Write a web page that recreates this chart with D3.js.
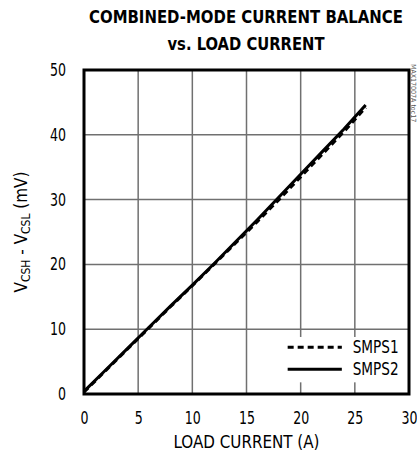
<!DOCTYPE html>
<html>
<head>
<meta charset="utf-8">
<script src="https://cdn.jsdelivr.net/npm/d3@7"></script>
<style>
  body { margin: 0; background: #fff; }
  text { font-family: "Liberation Sans Narrow", "DejaVu Sans Condensed", "Liberation Sans", sans-serif; }
</style>
</head>
<body>
<div id="chart"></div>
<script>
// Data
var current = [0, 2, 4, 6, 8, 10, 12, 14, 16, 18, 20, 22, 24, 26];
var smps1 = [0.3, 3.6, 6.9, 10.2, 13.5, 16.7, 20.0, 23.3, 26.6, 30.0, 33.5, 37.0, 40.5, 44.2];
var smps2 = [0.4, 3.7, 7.0, 10.3, 13.6, 16.8, 20.1, 23.5, 26.9, 30.4, 33.9, 37.4, 40.9, 44.6];
var xTicks = [0, 5, 10, 15, 20, 25, 30];
var yTicks = [0, 10, 20, 30, 40, 50];
var seriesNames = ["SMPS1", "SMPS2"];

var margin = { top: 70, right: 8, bottom: 61, left: 84 },
  width = 417 - margin.left - margin.right,
  height = 455 - margin.top - margin.bottom;

var svgRoot = d3.select("#chart")
  .append("svg")
  .attr("width", 417)
  .attr("height", 455);

// Title
var title = svgRoot.append("g").attr("font-weight", "bold").attr("text-anchor", "middle");
title.append("text").attr("x", 246).attr("y", 23).attr("font-size", 18.5)
  .attr("textLength", 314).attr("lengthAdjust", "spacingAndGlyphs")
  .text("COMBINED-MODE CURRENT BALANCE");
title.append("text").attr("x", 246).attr("y", 50).attr("font-size", 18.5)
  .attr("textLength", 157).attr("lengthAdjust", "spacingAndGlyphs")
  .text("vs. LOAD CURRENT");

var svg = svgRoot.append("g")
  .attr("transform", "translate(" + margin.left + "," + margin.top + ")");

var x = d3.scaleLinear().domain([0, 30]).range([0, width]);
var y = d3.scaleLinear().domain([0, 50]).range([height, 0]);

// Grid lines
svg.selectAll(".vgrid").data(xTicks.slice(1, -1)).enter()
  .append("line").attr("class", "vgrid")
  .attr("x1", function (d) { return x(d); }).attr("x2", function (d) { return x(d); })
  .attr("y1", 0).attr("y2", height)
  .attr("stroke", "#707070").attr("stroke-width", 1.5);
svg.selectAll(".hgrid").data(yTicks.slice(1, -1)).enter()
  .append("line").attr("class", "hgrid")
  .attr("x1", 0).attr("x2", width)
  .attr("y1", function (d) { return y(d); }).attr("y2", function (d) { return y(d); })
  .attr("stroke", "#707070").attr("stroke-width", 1.5);

// Axes (labels only), squeezed to the narrow face of the original
var xAxis = svg.append("g")
  .attr("transform", "translate(0," + height + ")")
  .call(d3.axisBottom(x).tickValues(xTicks).tickSize(0).tickPadding(18));
var yAxis = svg.append("g")
  .call(d3.axisLeft(y).tickValues(yTicks).tickSize(0).tickPadding(18));
[xAxis, yAxis].forEach(function (a) {
  a.select(".domain").remove();
  a.selectAll("text").attr("font-size", 17).attr("fill", "#000")
    .style("font-family", "\"Liberation Sans Narrow\", \"DejaVu Sans Condensed\", sans-serif")
    .attr("textLength", function (d) { return String(d).length * 8; })
    .attr("lengthAdjust", "spacingAndGlyphs");
});

// Lines
var line = function (vals) {
  return d3.line()
    .x(function (d, i) { return x(current[i]); })
    .y(function (d) { return y(d); })(vals);
};
svg.append("path").attr("d", line(smps1))
  .attr("fill", "none").attr("stroke", "#000").attr("stroke-width", 3)
  .attr("stroke-dasharray", "6,4");
svg.append("path").attr("d", line(smps2))
  .attr("fill", "none").attr("stroke", "#000").attr("stroke-width", 3);

// Legend
var legend = svg.append("g");
legend.append("rect")
  .attr("x", x(18.5)).attr("y", y(8.8))
  .attr("width", x(29.7) - x(18.5)).attr("height", y(1.8) - y(8.8))
  .attr("fill", "#fff");
seriesNames.forEach(function (name, i) {
  var ly = y(7.2) + i * 22;
  legend.append("line")
    .attr("x1", x(18.8)).attr("x2", x(23.8))
    .attr("y1", ly).attr("y2", ly)
    .attr("stroke", "#000").attr("stroke-width", 3)
    .attr("stroke-dasharray", i === 0 ? "6,4" : null);
  legend.append("text")
    .attr("x", x(24.8)).attr("y", ly + 6)
    .attr("font-size", 17)
    .attr("textLength", 46).attr("lengthAdjust", "spacingAndGlyphs")
    .text(name);
});

// Frame
svg.append("rect")
  .attr("width", width).attr("height", height)
  .attr("fill", "none").attr("stroke", "#000").attr("stroke-width", 3);

// Axis titles
svgRoot.append("text")
  .attr("x", margin.left + width / 2).attr("y", 448)
  .attr("text-anchor", "middle").attr("font-size", 17)
  .attr("textLength", 146).attr("lengthAdjust", "spacingAndGlyphs")
  .text("LOAD CURRENT (A)");

var yTitle = svgRoot.append("text")
  .attr("transform", "translate(27,232) rotate(-90)")
  .attr("text-anchor", "middle").attr("font-size", 17)
  .attr("textLength", 121).attr("lengthAdjust", "spacingAndGlyphs");
yTitle.append("tspan").text("V");
yTitle.append("tspan").attr("font-size", 12).attr("dy", 3).text("CSH");
yTitle.append("tspan").attr("dy", -3).text(" - V");
yTitle.append("tspan").attr("font-size", 12).attr("dy", 3).text("CSL");
yTitle.append("tspan").attr("dy", -3).text(" (mV)");

// Figure tag
svgRoot.append("text")
  .attr("transform", "translate(411,64) rotate(90)")
  .attr("font-size", 7).attr("fill", "#555")
  .attr("font-family", "Liberation Sans, sans-serif")
  .text("MAX17007A toc17");
</script>
</body>
</html>
